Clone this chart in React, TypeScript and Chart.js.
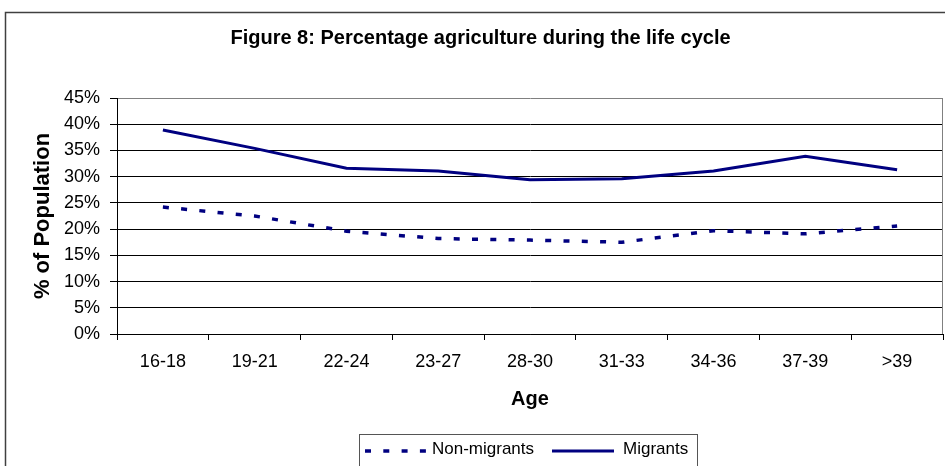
import React, { useEffect, useRef } from "react";
import { Chart, registerables } from "chart.js";

Chart.register(...registerables);

const categories = ["16-18", "19-21", "22-24", "23-27", "28-30", "31-33", "34-36", "37-39", ">39"];
const nonMigrants = [24.2, 22.5, 19.6, 18.2, 17.9, 17.5, 19.7, 19.1, 20.6];
const migrants = [38.9, 35.4, 31.6, 31.1, 29.4, 29.6, 31.1, 33.9, 31.3];
const yTicks = [0, 5, 10, 15, 20, 25, 30, 35, 40, 45];

const titleText = "Figure 8: Percentage agriculture during the life cycle";
const yTitle = "% of Population";
const xTitle = "Age";

const FONT = "'Liberation Sans', Arial, sans-serif";
const NAVY = "#000080";

const framePlugin = {
  id: "frame",
  beforeDraw(chart: any) {
    const ctx = chart.ctx;
    ctx.save();
    ctx.fillStyle = "#fff";
    ctx.fillRect(0, 0, chart.width, chart.height);
    ctx.strokeStyle = "#404040";
    ctx.lineWidth = 1.5;
    ctx.beginPath();
    ctx.moveTo(5.5, chart.height + 5);
    ctx.lineTo(5.5, 12.5);
    ctx.lineTo(chart.width + 5, 12.5);
    ctx.stroke();
    ctx.restore();
  },
  beforeDatasetsDraw(chart: any) {
    const { ctx, chartArea } = chart;
    ctx.save();
    ctx.strokeStyle = "#808080";
    ctx.lineWidth = 1;
    ctx.beginPath();
    ctx.moveTo(chartArea.right - 0.5, chartArea.top);
    ctx.lineTo(chartArea.right - 0.5, chartArea.bottom);
    ctx.stroke();
    ctx.restore();
  },
  afterDraw(chart: any) {
    const ctx = chart.ctx;
    const ds = chart.data.datasets;
    ctx.save();
    // legend box
    ctx.strokeStyle = "#555";
    ctx.lineWidth = 1;
    ctx.strokeRect(359.5, 434.5, 338, 60);
    const items = [
      { x: 365, tx: 432 },
      { x: 552, tx: 623 },
    ];
    ds.forEach((d: any, i: number) => {
      const it = items[i];
      ctx.strokeStyle = d.borderColor;
      ctx.lineWidth = d.borderWidth;
      ctx.lineCap = "butt";
      ctx.setLineDash(d.borderDash || []);
      ctx.beginPath();
      ctx.moveTo(it.x, 451);
      ctx.lineTo(it.x + 62, 451);
      ctx.stroke();
      ctx.setLineDash([]);
      ctx.fillStyle = "#000";
      ctx.font = `17px ${FONT}`;
      ctx.textBaseline = "middle";
      ctx.textAlign = "left";
      ctx.fillText(d.label, it.tx, 449);
    });
    ctx.restore();
  },
};

export default function App() {
  const ref = useRef<HTMLCanvasElement>(null);
  useEffect(() => {
    const chart = new Chart(ref.current!, {
      type: "line",
      data: {
        labels: categories,
        datasets: [
          {
            label: "Non-migrants",
            data: nonMigrants,
            borderColor: NAVY,
            backgroundColor: NAVY,
            borderWidth: 3.5,
            borderDash: [6, 12.3],
            borderCapStyle: "butt",
            pointRadius: 0,
            tension: 0,
          },
          {
            label: "Migrants",
            data: migrants,
            borderColor: NAVY,
            backgroundColor: NAVY,
            borderWidth: 3,
            pointRadius: 0,
            tension: 0,
          },
        ],
      },
      plugins: [framePlugin],
      options: {
        animation: false,
        responsive: false,
        maintainAspectRatio: false,
        layout: { padding: { left: 18, right: 2, top: 0, bottom: 55 } },
        plugins: {
          legend: { display: false },
          tooltip: { enabled: false },
          title: {
            display: true,
            text: titleText,
            color: "#000",
            font: { family: FONT, size: 20, weight: "bold" },
            padding: { top: 26, bottom: 48 },
          },
        },
        scales: {
          x: {
            type: "category",
            offset: true,
            grid: {
              offset: true,
              drawOnChartArea: false,
              drawTicks: true,
              tickLength: 6,
              tickColor: "#000",
              color: "#000",
            },
            border: { display: true, color: "#000", width: 1 },
            ticks: {
              color: "#000",
              font: { family: FONT, size: 18 },
              padding: 11,
              maxRotation: 0,
              autoSkip: false,
            },
            title: {
              display: true,
              text: xTitle,
              color: "#000",
              font: { family: FONT, size: 20, weight: "bold" },
              padding: { top: 0, bottom: 0 },
            },
            afterFit: (s: any) => {
              s.height = 77;
            },
          },
          y: {
            min: 0,
            max: 45,
            afterBuildTicks: (s: any) => {
              s.ticks = yTicks.map((v) => ({ value: v }));
            },
            grid: {
              color: (c: any) => (c.tick && c.tick.value === 45 ? "#808080" : "#000"),
              tickColor: "#000",
              tickLength: 7,
              drawTicks: true,
              lineWidth: 1,
            },
            border: { display: true, color: "#000", width: 1 },
            ticks: {
              color: "#000",
              font: { family: FONT, size: 18 },
              padding: 10,
              callback: (v: any) => `${v}%`,
            },
            title: {
              display: true,
              text: yTitle,
              color: "#000",
              font: { family: FONT, size: 22, weight: "bold" },
              padding: { top: 12, bottom: 0 },
            },
            afterFit: (s: any) => {
              s.width = 99;
            },
          },
        },
      },
    });
    return () => chart.destroy();
  }, []);
  return (
    <div style={{ position: "fixed", left: 0, top: 0, width: 945, height: 466 }}>
      <canvas ref={ref} width={945} height={466} style={{ display: "block", width: 945, height: 466 }} />
    </div>
  );
}
